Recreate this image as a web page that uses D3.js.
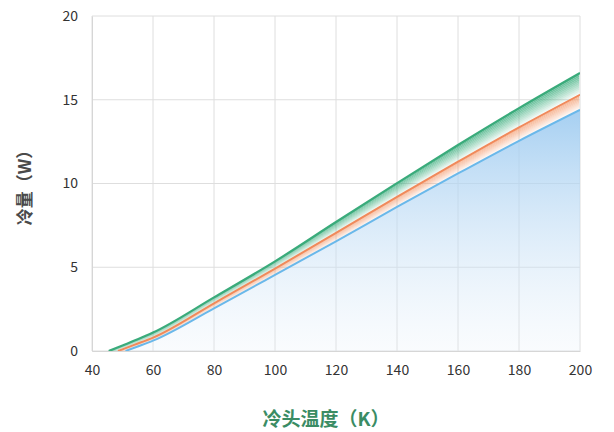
<!DOCTYPE html>
<html><head><meta charset="utf-8">
<script src="https://cdn.jsdelivr.net/npm/d3@7"></script>
<style>body{margin:0;background:#fff;}svg{display:block;font-family:"Noto Sans CJK SC","Noto Sans",sans-serif;}</style>
</head><body><div id="chart"></div>
<script>
const xTicks = [40,60,80,100,120,140,160,180,200];
const yTicks = [0,5,10,15,20];
const greenX = [45.5,50,55,60,80,100,120,140,160,180,200];
const greenY = [0,0.33,0.7,1.1,3.2,5.35,7.7,10.02,12.3,14.5,16.6];
const orangeX = [48.5,54,60,80,100,120,140,160,180,200];
const orangeY = [0,0.38,0.8,2.85,4.92,7.05,9.2,11.3,13.35,15.3];
const blueX = [51,55,60,80,100,120,140,160,180,200];
const blueY = [0,0.27,0.62,2.55,4.54,6.55,8.6,10.6,12.55,14.4];
const xTitle = "冷头温度（K）";
const yTitle = "冷量（W）";

const W=614,H=432, m={l:92,r:34,t:16,b:81};
const svg=d3.select("#chart").append("svg").attr("width",W).attr("height",H);
const x=d3.scaleLinear().domain([40,200]).range([m.l,W-m.r]);
const y=d3.scaleLinear().domain([0,20]).range([H-m.b,m.t]);

const defs=svg.append("defs");
const bg=defs.append("linearGradient").attr("id","blueGrad").attr("x1",0).attr("y1",0).attr("x2",0).attr("y2",1);
bg.append("stop").attr("offset","0%").attr("stop-color","#9ccaf0").attr("stop-opacity",0.9);
bg.append("stop").attr("offset","100%").attr("stop-color","#e3eef9").attr("stop-opacity",0.2);
defs.append("clipPath").attr("id","clip").append("rect").attr("x",m.l).attr("y",m.t).attr("width",W-m.l-m.r).attr("height",H-m.t-m.b);

// grid
const g=svg.append("g");
g.selectAll(".vg").data(xTicks).join("line").attr("x1",d=>x(d)).attr("x2",d=>x(d)).attr("y1",y(0)).attr("y2",y(20)).attr("stroke","#dedede").attr("stroke-width",1);
g.selectAll(".hg").data(yTicks).join("line").attr("x1",x(40)).attr("x2",x(200)).attr("y1",d=>y(d)).attr("y2",d=>y(d)).attr("stroke","#dedede").attr("stroke-width",1);

const curve=d3.curveMonotoneX;
function sampler(xs,ys){
  const tmp=document.createElementNS("http://www.w3.org/2000/svg","path");
  const p=d3.select(svg.node().appendChild(tmp)).attr("d",d3.line().x(d=>x(d[0])).y(d=>y(d[1])).curve(curve)(xs.map((v,i)=>[v,ys[i]])));
  const node=p.node(), L=node.getTotalLength(), pts=[];
  for(let s=0;s<=L;s+=1){const q=node.getPointAtLength(s);pts.push([q.x,q.y]);}
  p.remove();
  return function(px){
    if(px<=pts[0][0]) return pts[0][1]+(pts[0][0]-px)*0.3;
    for(let i=1;i<pts.length;i++){ if(px<=pts[i][0]){const t=(px-pts[i-1][0])/((pts[i][0]-pts[i-1][0])||1);return pts[i-1][1]+t*(pts[i][1]-pts[i-1][1]);} }
    return pts[pts.length-1][1];
  };
}
const sG=sampler(greenX,greenY), sO=sampler(orangeX,orangeY), sB=sampler(blueX,blueY);
const px=d3.range(x(44),x(200)+0.01,1);
const plot=svg.append("g").attr("clip-path","url(#clip)");
const base=y(0);

// blue area
const blueData=blueX.map((v,i)=>[v,blueY[i]]);
plot.append("path").datum(blueData).attr("fill","url(#blueGrad)")
  .attr("d",d3.area().x(d=>x(d[0])).y0(base).y1(d=>y(d[1])).curve(curve));

// bands with local fade
function band(top,bot,color,n,maxOp){
  for(let k=0;k<n;k++){
    const t0=k/n,t1=(k+1)/n;
    const pts=px.map(v=>{const a=top(v),b=bot(v);return [v,Math.min(base,a+(b-a)*t0),Math.min(base,a+(b-a)*t1)];});
    plot.append("path").datum(pts).attr("fill",color).attr("fill-opacity",maxOp*(1-(k+0.5)/n))
      .attr("d",d3.area().x(d=>d[0]).y0(d=>d[2]).y1(d=>d[1]));
  }
}
band(sG,sO,"#3dae7e",12,0.85);
band(sO,sB,"#f49a6c",12,0.8);

// lines
const line=d3.line().x(d=>x(d[0])).y(d=>y(d[1])).curve(curve);
plot.append("path").datum(blueData).attr("fill","none").attr("stroke","#6ab8ea").attr("stroke-width",2).attr("d",line);
plot.append("path").datum(orangeX.map((v,i)=>[v,orangeY[i]])).attr("fill","none").attr("stroke","#f08a5b").attr("stroke-width",2).attr("d",line);
plot.append("path").datum(greenX.map((v,i)=>[v,greenY[i]])).attr("fill","none").attr("stroke","#3aab7b").attr("stroke-width",2.2).attr("d",line);

// axes
const xa=svg.append("g").attr("transform",`translate(0,${y(0)})`).call(d3.axisBottom(x).tickValues(xTicks).tickSize(0).tickPadding(14));
xa.select(".domain").attr("stroke","#d6d6d6");
xa.selectAll("text").attr("font-size",14).attr("fill","#333").attr("font-family","'Noto Sans CJK SC','Noto Sans',sans-serif");
const ya=svg.append("g").attr("transform",`translate(${x(40)},0)`).call(d3.axisLeft(y).tickValues(yTicks).tickSize(0).tickPadding(14));
ya.select(".domain").attr("stroke","#d6d6d6");
ya.selectAll("text").attr("font-size",14).attr("fill","#333").attr("font-family","'Noto Sans CJK SC','Noto Sans',sans-serif");

svg.append("text").attr("x",326).attr("y",426).attr("text-anchor","middle")
  .attr("font-size",19).attr("font-weight",700).attr("fill","#3a8c64").text(xTitle);
svg.append("text").attr("transform",`translate(31,${(y(0)+y(20))/2}) rotate(-90)`).attr("text-anchor","middle")
  .attr("font-size",17).attr("font-weight",700).attr("fill","#4a4a4a").text(yTitle);
</script></body></html>
